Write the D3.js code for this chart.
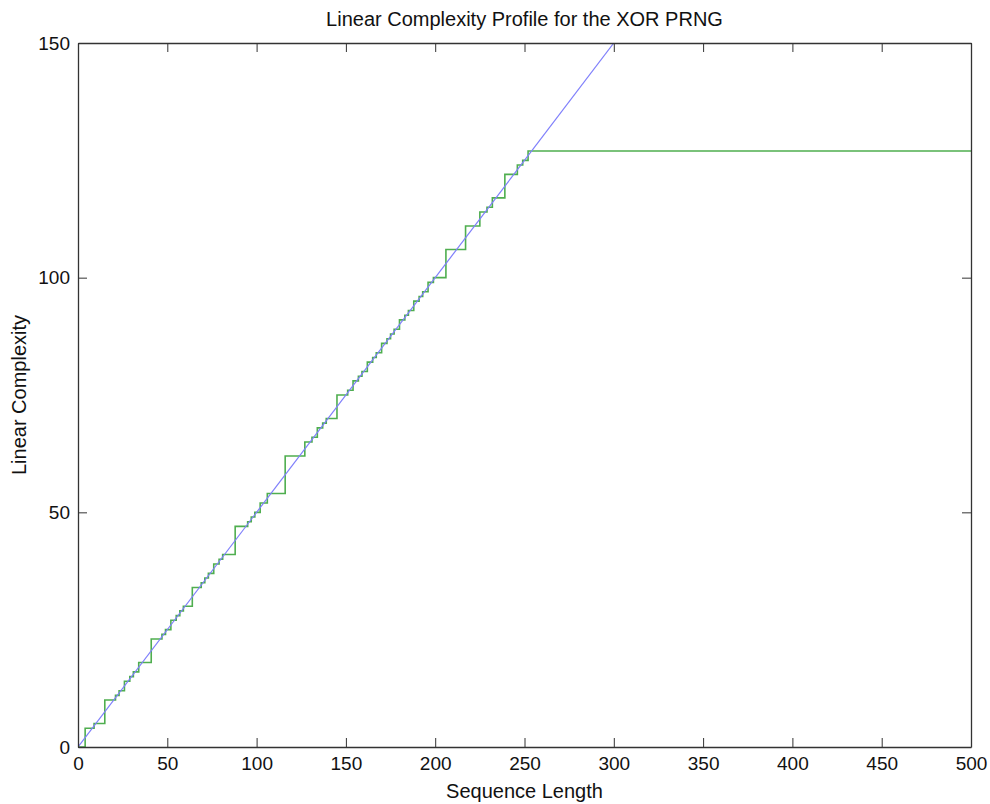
<!DOCTYPE html>
<html>
<head>
<meta charset="utf-8">
<script src="https://cdn.jsdelivr.net/npm/d3@7"></script>
<style>
  html, body { margin: 0; padding: 0; background: #fff; }
  svg { display: block; }
  text { font-family: "Liberation Sans", Arial, Helvetica, sans-serif; fill: #111; }
</style>
</head>
<body>
<svg id="chart" width="990" height="804"></svg>
<script>
// ---- data ----
const titleText = "Linear Complexity Profile for the XOR PRNG";
const xLabel = "Sequence Length";
const yLabel = "Linear Complexity";
const xTicks = [0, 50, 100, 150, 200, 250, 300, 350, 400, 450, 500];
const yTicks = [0, 50, 100, 150];

// green step profile: sequence length where the complexity changes, and the new complexity
const jumpN = [0,4,9,15,21,23,26,29,31,34,41,47,49,52,55,57,59,64,69,71,73,76,79,81,88,95,97,99,102,106,116,127,131,134,137,139,145,151,154,157,159,162,165,167,170,173,175,177,180,183,185,188,191,193,196,199,206,217,225,229,232,239,246,249,252,500];
const jumpL = [0,4,5,10,11,12,14,15,16,18,23,24,25,27,28,29,30,34,35,36,37,39,40,41,47,48,49,50,52,54,62,65,66,68,69,70,75,76,78,79,80,82,83,84,86,87,88,89,91,92,93,95,96,97,99,100,106,111,114,115,117,122,124,125,127,127];

// blue reference line (expected complexity n/2) endpoints
const expectedN = [0, 300];
const expectedL = [0, 150];

// ---- layout ----
const svg = d3.select("#chart");
const m = { left: 78, top: 43, right: 19, bottom: 57 };
const W = 990 - m.left - m.right;
const H = 804 - m.top - m.bottom;

const x = d3.scaleLinear().domain([0, 500]).range([0, W]);
const y = d3.scaleLinear().domain([0, 150]).range([H, 0]);

const g = svg.append("g").attr("transform", `translate(${m.left},${m.top})`);

svg.append("defs").append("clipPath").attr("id", "clip")
  .append("rect").attr("x", 0).attr("y", 0).attr("width", W).attr("height", H);

const plot = g.append("g").attr("clip-path", "url(#clip)");

const stepData = jumpN.map((n, i) => [n, jumpL[i]]);
plot.append("path")
  .datum(stepData)
  .attr("fill", "none")
  .attr("stroke", "#4fae4f")
  .attr("stroke-width", 1.6)
  .attr("d", d3.line().x(d => x(d[0])).y(d => y(d[1])).curve(d3.curveStepAfter));

const refData = expectedN.map((n, i) => [n, expectedL[i]]);
plot.append("path")
  .datum(refData)
  .attr("fill", "none")
  .attr("stroke", "#7f7ffb")
  .attr("stroke-width", 1.2)
  .attr("d", d3.line().x(d => x(d[0])).y(d => y(d[1])));

// ---- axes (ticks inside, on all four sides) ----
const tickLen = 9;
const axisColor = "#333";

const xb = g.append("g").attr("transform", `translate(0,${H})`)
  .call(d3.axisBottom(x).tickValues(xTicks).tickSizeInner(-tickLen).tickSizeOuter(0).tickPadding(10));
const xt = g.append("g")
  .call(d3.axisTop(x).tickValues(xTicks).tickSizeInner(-tickLen).tickSizeOuter(0).tickFormat(""));
const yl = g.append("g")
  .call(d3.axisLeft(y).tickValues(yTicks).tickSizeInner(-tickLen).tickSizeOuter(0).tickPadding(8));
const yr = g.append("g").attr("transform", `translate(${W},0)`)
  .call(d3.axisRight(y).tickValues(yTicks).tickSizeInner(-tickLen).tickSizeOuter(0).tickFormat(""));

[xb, xt, yl, yr].forEach(a => {
  a.selectAll(".domain").attr("stroke", axisColor).attr("stroke-width", 1.3);
  a.selectAll(".tick line").attr("stroke", axisColor).attr("stroke-width", 1);
  a.selectAll(".tick text").style("font-size", "19px").style("font-family", "'Liberation Sans', Arial, sans-serif").attr("fill", "#111");
});

// ---- labels ----
svg.append("text")
  .attr("x", m.left + W / 2).attr("y", 26)
  .attr("text-anchor", "middle")
  .style("font-size", "20px")
  .text(titleText);

svg.append("text")
  .attr("x", m.left + W / 2).attr("y", 798)
  .attr("text-anchor", "middle")
  .style("font-size", "20px")
  .text(xLabel);

svg.append("text")
  .attr("transform", `translate(26,${m.top + H / 2}) rotate(-90)`)
  .attr("text-anchor", "middle")
  .style("font-size", "20px")
  .text(yLabel);
</script>
</body>
</html>
